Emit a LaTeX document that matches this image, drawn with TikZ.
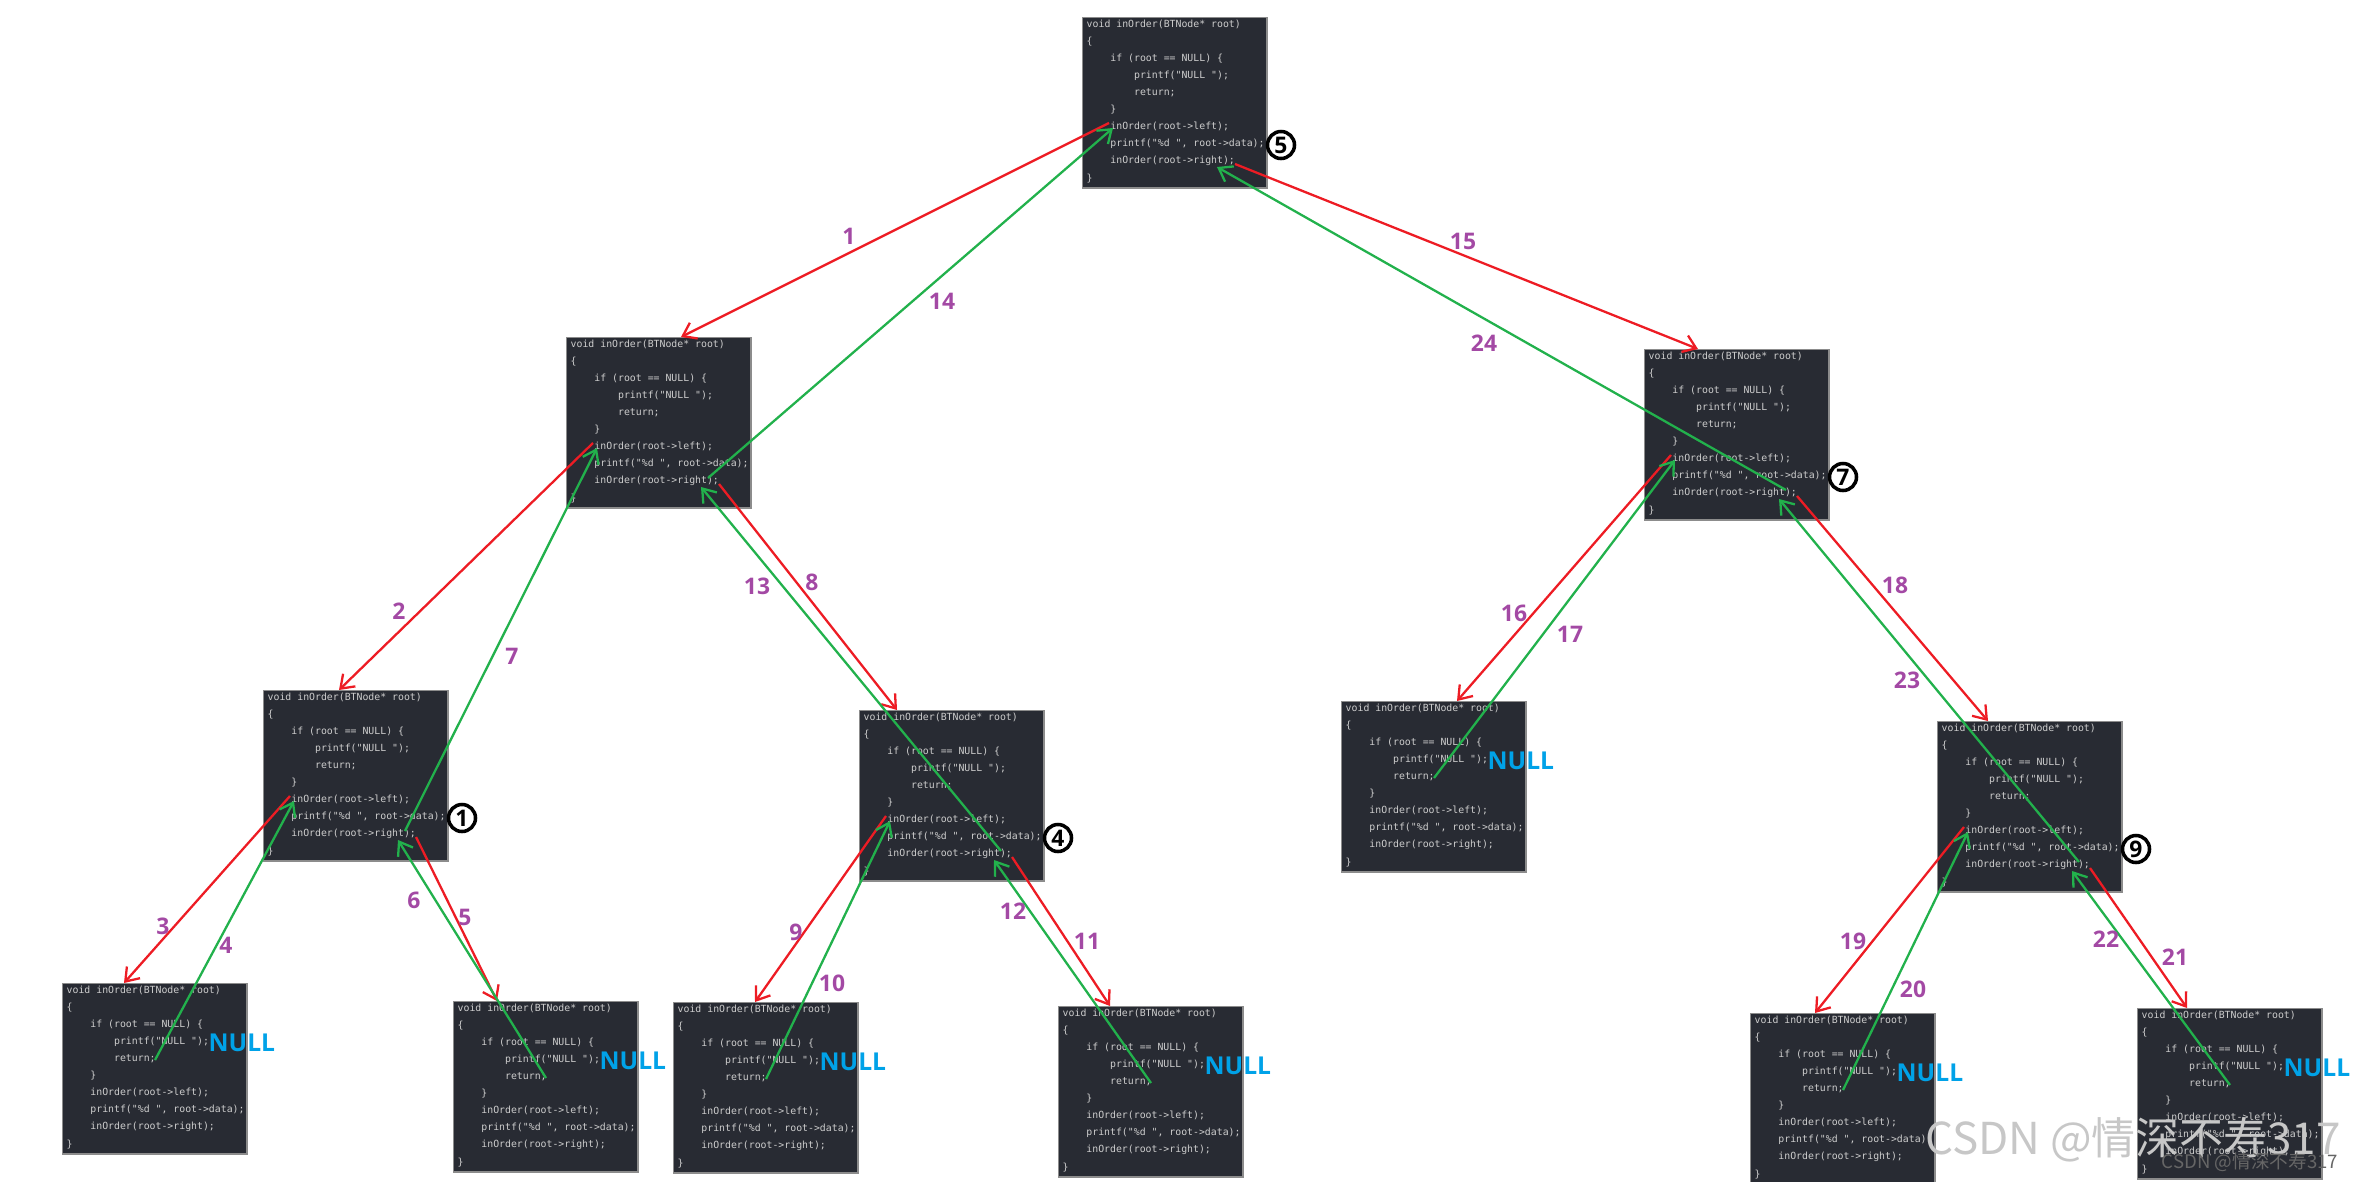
\documentclass[tikz,border=0pt]{standalone}
\usepackage{fontspec}
\usepackage{xcolor}
\usepackage{tikz}
\usetikzlibrary{arrows.meta}

\setmonofont{DejaVu Sans Mono}
\newfontfamily\lblfont{Open Sans}
\newfontfamily\cjkfont{Noto Sans CJK SC}

\definecolor{callred}{RGB}{237,28,36}
\definecolor{retgreen}{RGB}{34,177,76}
\definecolor{steppurple}{RGB}{163,73,164}
\definecolor{nullblue}{RGB}{0,162,232}
\definecolor{codebg}{RGB}{40,43,51}
\definecolor{codefg}{RGB}{205,205,205}
\definecolor{boxedge}{RGB}{140,140,140}

\newcommand\ind{\hphantom{xxxx}}
\newcommand\codelines{void inOrder(BTNode* root)\\
\{\\
\ind if (root == NULL) \{\\
\ind\ind printf("NULL ");\\
\ind\ind return;\\
\ind\}\\
\ind inOrder(root->left);\\
\ind printf("\%d ", root->data);\\
\ind inOrder(root->right);\\
\}}

\begin{document}
\begin{tikzpicture}[x=0.01cm, y=-0.01cm,
    codebox/.style={rectangle, anchor=north west, inner sep=0pt, draw=boxedge, line width=0.4pt,
        fill=codebg, minimum width=1.84cm, minimum height=1.70cm},
    codetext/.style={anchor=north west, inner sep=0pt, xshift=0.04cm, yshift=-0.02cm, align=left,
        text=codefg, font=\ttfamily\fontsize{2.8}{4.86}\selectfont},
    callline/.style={draw=callred, line width=0.65pt, -{Straight Barb[length=3.5pt,width=5pt]}},
    retline/.style={draw=retgreen, line width=0.65pt, -{Straight Barb[length=3.5pt,width=5pt]}},
    stepno/.style={text=steppurple, inner sep=0pt, font=\lblfont\bfseries\fontsize{6.5}{7}\selectfont},
    nullmark/.style={anchor=west, inner sep=0pt, text=nullblue, font=\lblfont\bfseries\fontsize{7}{8}\selectfont},
    order/.style={circle, draw=black, line width=1pt, minimum size=0.27cm, inner sep=0pt,
        fill=white, font=\lblfont\bfseries\fontsize{6.5}{7}\selectfont}]
\useasboundingbox (0,0) rectangle (2360,1181);

% one code box per call
\foreach \nm/\x/\y in {A/1082/17, B/566/337, C/1644/349, D/263/690, E/859/710, F/1341/701,
        G/1937/721, H/62/983, I/453/1001, J/673/1002, K/1058/1006, L/1750/1013, M/2137/1008} {
    \node[codebox] (\nm) at (\x,\y) {};
    \node[codetext] (\nm-txt) at (\nm.north west) {\codelines};
    \coordinate (\nm-in) at ([shift={(27,106)}]\nm.north west);
    \coordinate (\nm-back) at ([shift={(31,111)}]\nm.north west);
    \coordinate (\nm-out) at ([shift={(153,147)}]\nm.north west);
    \coordinate (\nm-rback) at ([shift={(135,150)}]\nm.north west);
    \coordinate (\nm-up) at ([shift={(142,141)}]\nm.north west);
    \coordinate (\nm-ret) at ([shift={(93,77)}]\nm.north west);
}

\foreach \nm in {F,H,I,J,K,L,M}
    \node[nullmark] (\nm-null) at ([shift={(146,60)}]\nm.north west) {NULL};

% calls going down
\draw[callline] (A-in) -- ([shift={(115,0)}]B.north west);
\draw[callline] (B-in) -- ([shift={(76,0)}]D.north west);
\draw[callline] (D-in) -- ([shift={(62,0)}]H.north west);
\draw[callline] (D-out) -- ([shift={(44,0)}]I.north west);
\draw[callline] (B-out) -- ([shift={(38,0)}]E.north west);
\draw[callline] (E-in) -- ([shift={(82,0)}]J.north west);
\draw[callline] (E-out) -- ([shift={(52,0)}]K.north west);
\draw[callline] (A-out) -- ([shift={(54,0)}]C.north west);
\draw[callline] (C-in) -- ([shift={(116,0)}]F.north west);
\draw[callline] (C-out) -- ([shift={(51,0)}]G.north west);
\draw[callline] (G-in) -- ([shift={(65,0)}]L.north west);
\draw[callline] (G-out) -- ([shift={(50,0)}]M.north west);

% returns going up
\draw[retline] (H-ret) -- (D-back);
\draw[retline] (I-ret) -- (D-rback);
\draw[retline] (D-up) -- (B-back);
\draw[retline] (J-ret) -- (E-back);
\draw[retline] (K-ret) -- (E-rback);
\draw[retline] (E-up) -- (B-rback);
\draw[retline] (B-up) -- (A-back);
\draw[retline] (F-ret) -- (C-back);
\draw[retline] (L-ret) -- (G-back);
\draw[retline] (M-ret) -- (G-rback);
\draw[retline] (G-up) -- (C-rback);
\draw[retline] (C-up) -- (A-rback);

\foreach \nm/\k in {A/5, C/7, D/1, E/4, G/9}
    \node[order] (ord\k) at ([shift={(199,128)}]\nm.north west) {\k};

\foreach \k/\x/\y in {1/849/236, 14/942/301, 15/1463/241, 24/1484/343, 2/399/611, 7/512/656,
        13/757/586, 8/812/582, 3/163/926, 4/226/945, 6/414/900, 5/465/917, 9/796/932,
        10/832/983, 12/1013/911, 11/1087/941, 16/1514/613, 17/1570/634, 18/1895/585,
        23/1907/680, 19/1853/941, 20/1913/989, 22/2106/939, 21/2175/957}
    \node[stepno] (step\k) at (\x,\y) {\k};

\node[text=black!22, inner sep=0pt, font=\cjkfont\fontsize{12.5}{14}\selectfont] (mark) at (2133,1140) {CSDN @情深不寿317};
\node[text=black!60, inner sep=0pt, font=\cjkfont\fontsize{5.3}{6}\selectfont] (marksmall) at (2250,1162) {CSDN @情深不寿317};
\end{tikzpicture}
\end{document}
